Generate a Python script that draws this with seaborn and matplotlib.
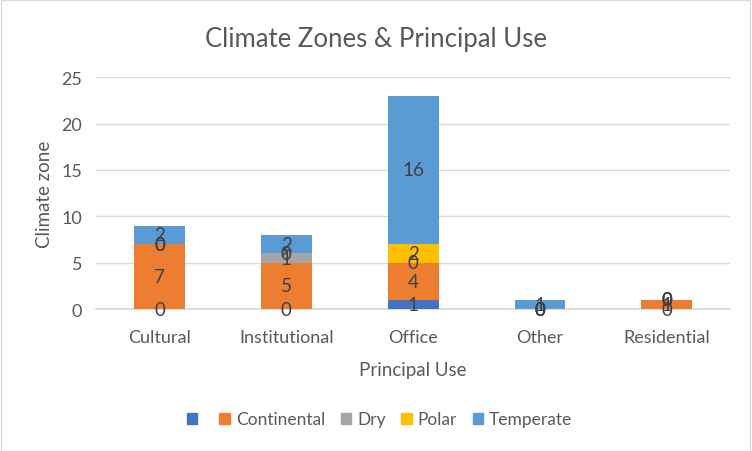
import matplotlib
matplotlib.use("Agg")
import matplotlib.pyplot as plt
import seaborn as sns
import pandas as pd
import numpy as np

categories = ["Cultural", "Institutional", "Office", "Other", "Residential"]
series_names = ["", "Continental", "Dry", "Polar", "Temperate"]
blank = [0, 0, 1, 0, 0]
continental = [7, 5, 4, 0, 1]
dry = [0, 1, 0, 0, 0]
polar = [0, 0, 2, 0, 0]
temperate = [2, 2, 16, 1, 0]
colors = ["#4472C4", "#ED7D31", "#A5A5A5", "#FFC000", "#5B9BD5"]
series_values = [blank, continental, dry, polar, temperate]

sns.set_theme(style="white")
plt.rcParams['font.family'] = ['Lato', 'DejaVu Sans']

fig = plt.figure(figsize=(7.52, 4.52), dpi=100)
ax = fig.add_axes([0.128, 0.314, 0.843, 0.513])

bottoms = np.zeros(len(categories))
handles = []
for name, vals, col in zip(series_names, series_values, colors):
    df = pd.DataFrame({"cat": categories, "val": vals})
    sns.barplot(data=df, x="cat", y="val", color=col, bottom=bottoms, width=0.4,
                ax=ax, saturation=1, errorbar=None, zorder=3, linewidth=0, edgecolor="none")
    for i, v in enumerate(vals):
        ax.text(i, bottoms[i] + v / 2, f"{v}", ha="center", va="center",
                fontsize=13.5, color="#404040", zorder=5)
    handles.append(plt.Rectangle((0, 0), 1, 1, color=col))
    bottoms = bottoms + np.array(vals)

ax.set_ylim(0, 25)
ax.set_xlim(-0.5, len(categories) - 0.5)
ax.set_yticks(range(0, 26, 5))
ax.yaxis.grid(True, color="#D9D9D9", linewidth=1, zorder=0)
ax.set_axisbelow(True)
for s in ["top", "right", "left"]:
    ax.spines[s].set_visible(False)
ax.spines["bottom"].set_color("#D9D9D9")
ax.tick_params(axis="both", length=0, labelsize=13, labelcolor="#595959")
ax.tick_params(axis="x", pad=14)
ax.tick_params(axis="y", pad=10)
ax.set_xlabel("Principal Use", fontsize=13.5, color="#595959", labelpad=12)
ax.set_ylabel("Climate zone", fontsize=13.5, color="#595959", labelpad=6)
fig.suptitle("Climate Zones & Principal Use", fontsize=18.5, color="#595959", y=0.94)

leg = fig.legend(handles, series_names, loc="center", bbox_to_anchor=(0.505, 0.07),
                 ncol=5, frameon=False, fontsize=12.5, handlelength=0.6, handleheight=0.6,
                 columnspacing=0.9, handletextpad=0.35)
for t in leg.get_texts():
    t.set_color("#595959")

fig.patches.append(plt.Rectangle((0.001, 0.001), 0.997, 0.997, transform=fig.transFigure,
                                 fill=False, edgecolor="#D9D9D9", linewidth=1))
fig.savefig("out.png", dpi=100)
